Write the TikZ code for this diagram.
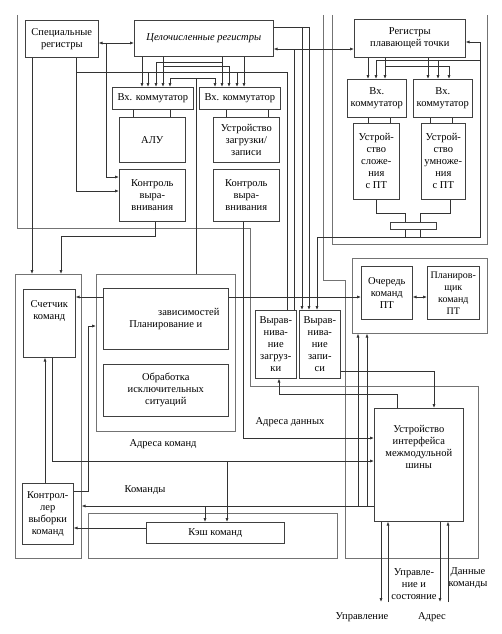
\documentclass[tikz,border=0pt]{standalone}
\usepackage{fontspec}
\setmainfont{Liberation Serif}
\usepackage{tikz}
\usetikzlibrary{arrows.meta}

\begin{document}
\begin{tikzpicture}[x=1pt, y=-1pt,
    box/.style={draw=black!75, line width=0.6pt, fill=white, align=center, inner sep=1pt,
      anchor=north west, font=\fontsize{10.5}{12}\selectfont},
    frame/.style={draw=black!55, line width=0.6pt},
    wire/.style={draw=black!80, line width=0.75pt},
    arr/.style={wire, -{Latex[length=4pt,width=3.2pt]}},
    dbl/.style={wire, {Latex[length=4pt,width=3.2pt]}-{Latex[length=4pt,width=3.2pt]}},
    lbl/.style={font=\fontsize{10.5}{12}\selectfont, align=center, inner sep=0pt}]
  \useasboundingbox (0,0) rectangle (502,634);

  % outer frames
  \draw[frame] (17,15) -- (17,228) -- (250,228) -- (250,386) -- (345,386);
  \draw[frame] (323,15) -- (323,280) -- (345,280) -- (345,558);
  \draw[frame] (332,15) -- (332,244) -- (487,244) -- (487,15);
  \node[frame, draw, anchor=north west, minimum width=66pt, minimum height=284pt] (fA) at (15,274) {};
  \node[frame, draw, anchor=north west, minimum width=139pt, minimum height=157pt] (fB) at (96,274) {};
  \node[frame, draw, anchor=north west, minimum width=135pt, minimum height=75pt] (fQ) at (352,258) {};
  \node[frame, draw, anchor=north west, minimum width=133pt, minimum height=172pt] (fI) at (345,386) {};
  \node[frame, draw, anchor=north west, minimum width=249pt, minimum height=45pt] (fC) at (88,513) {};

  % integer unit
  \node[box, minimum width=73pt, minimum height=37pt] (spec) at (25,20) {Специальные\\регистры};
  \node[box, minimum width=139pt, minimum height=36pt] (intreg) at (134,20) {\textit{Целочисленные регистры}};
  \node[box, minimum width=81pt, minimum height=22pt] (comL) at (112,87) {Вх. коммутатор};
  \node[box, minimum width=81pt, minimum height=22pt] (comR) at (199,87) {Вх. коммутатор};
  \node[box, minimum width=66pt, minimum height=45pt] (alu) at (119,117) {АЛУ};
  \node[box, minimum width=66pt, minimum height=45pt] (ldst) at (213,117) {Устройство\\загрузки/\\записи};
  \node[box, minimum width=66pt, minimum height=52pt] (ctlL) at (119,169) {Контроль\\выра-\\внивания};
  \node[box, minimum width=66pt, minimum height=52pt] (ctlR) at (213,169) {Контроль\\выра-\\внивания};

  % floating point unit
  \node[box, minimum width=111pt, minimum height=38pt] (fpreg) at (354,19) {Регистры\\плавающей точки};
  \node[box, minimum width=59pt, minimum height=38pt] (fcomL) at (347,79) {Вх.\\коммутатор};
  \node[box, minimum width=59pt, minimum height=38pt] (fcomR) at (413,79) {Вх.\\коммутатор};
  \node[box, minimum width=46pt, minimum height=76pt] (fadd) at (353,123) {Устрой-\\ство\\сложе-\\ния\\с ПТ};
  \node[box, minimum width=44pt, minimum height=76pt] (fmul) at (421,123) {Устрой-\\ство\\умноже-\\ния\\с ПТ};

  % command flow
  \node[box, minimum width=52pt, minimum height=68pt] (pc) at (23,289) {Счетчик\\команд\\[14pt]};
  \node[box, minimum width=125pt, minimum height=61pt] (sched) at (103,288) {\hspace*{46pt}зависимостей\\Планирование и};
  \node[box, minimum width=125pt, minimum height=52pt] (exc) at (103,364) {Обработка\\исключительных\\ситуаций};
  \node[box, minimum width=41pt, minimum height=68pt] (alld) at (255,310) {Вырав-\\нива-\\ние\\загруз-\\ки};
  \node[box, minimum width=41pt, minimum height=68pt] (alst) at (299,310) {Вырав-\\нива-\\ние\\запи-\\си};
  \node[box, minimum width=51pt, minimum height=53pt] (fq) at (361,266) {Очередь\\команд\\ПТ};
  \node[box, minimum width=52pt, minimum height=53pt, inner sep=0pt, font=\fontsize{10}{12}\selectfont] (fsch) at (427,266) {Планиров-\\щик\\команд\\ПТ};
  \node[box, minimum width=89pt, minimum height=113pt] (bif) at (374,408) {Устройство\\интерфейса\\межмодульной\\шины\\[24pt]};
  \node[box, minimum width=51pt, minimum height=61pt] (fetch) at (22,483) {Контрол-\\лер\\выборки\\команд};
  \node[box, minimum width=138pt, minimum height=21pt] (icache) at (146,522) {Кэш команд};

  % registers and input switches
  \draw[dbl] (spec.east |- 0,43) -- (intreg.west |- 0,43);
  \draw[arr] (106,43) |- (ctlL.west |- 0,177);
  \draw[arr] (spec.south -| 76,0) |- (ctlL.west |- 0,191);
  \draw[arr] (spec.south -| 32,0) -- (fA.north -| 32,0);
  \draw[arr] (ctlL.south -| 155,0) |- (61,236) -- (fA.north -| 61,0);
  \draw[wire] (76,72) -- (287,72);
  \draw[arr] (intreg.south -| 142,0) -- (comL.north -| 142,0);
  \draw[arr] (intreg.south -| 163,0) -- (comL.north -| 163,0);
  \draw[arr] (163,66) -| (comR.north -| 229,0);
  \draw[arr] (intreg.south -| 222,0) -- (comR.north -| 222,0);
  \draw[arr] (222,62) -| (comL.north -| 156,0);
  \draw[arr] (intreg.south -| 244,0) -- (comR.north -| 244,0);
  \draw[arr] (148,72) -- (comL.north -| 148,0);
  \draw[arr] (237,72) -- (comR.north -| 237,0);
  \draw[dbl] (comL.north -| 170,0) -- (170,78) -- (215,78) -- (comR.north -| 215,0);
  \draw[wire] (196,78) -- (fB.north -| 196,0);
  \draw[wire] (comL.south -| 133,0) -- (alu.north -| 133,0);
  \draw[wire] (comL.south -| 170,0) -- (alu.north -| 170,0);
  \draw[wire] (comR.south -| 226,0) -- (ldst.north -| 226,0);
  \draw[wire] (comR.south -| 268,0) -- (ldst.north -| 268,0);

  % load / store paths
  \draw[dbl] (intreg.east |- 0,49) -- (fpreg.west |- 0,49);
  \draw[wire] (alld.north -| 287,0) -- (287,72);
  \draw[wire] (alld.north -| 294,0) -- (294,49);
  \draw[wire] (intreg.east |- 0,27) -- (309,27);
  \draw[arr] (302,27) -- (alst.north -| 302,0);
  \draw[arr] (309,27) -- (alst.north -| 309,0);
  \draw[arr] (317,237) -- (alst.north -| 317,0);
  \draw[arr] (ctlR.south -| 243,0) |- (bif.west |- 0,438);
  \draw[arr] (alst.east |- 0,371) -| (bif.north -| 434,0);
  \draw[arr] (bif.north -| 397,0) |- (279,394) -- (alld.south -| 279,0);

  % floating point paths
  \draw[arr] (317,237) -- (480,237) |- (fpreg.east |- 0,42);
  \draw[arr] (480,60) -| (fcomL.north -| 376,0);
  \draw[arr] (438,60) -- (fcomR.north -| 438,0);
  \draw[arr] (fpreg.south -| 368,0) -- (fcomL.north -| 368,0);
  \draw[arr] (fpreg.south -| 428,0) -- (fcomR.north -| 428,0);
  \draw[arr] (fpreg.south -| 385,0) -- (fcomL.north -| 385,0);
  \draw[arr] (385,66) -| (fcomR.north -| 449,0);
  \draw[wire] (fcomL.south -| 368,0) -- (fadd.north -| 368,0);
  \draw[wire] (fcomL.south -| 390,0) -- (fadd.north -| 390,0);
  \draw[wire] (fcomR.south -| 430,0) -- (fmul.north -| 430,0);
  \draw[wire] (fcomR.south -| 452,0) -- (fmul.north -| 452,0);
  \draw[wire] (fadd.south -| 376,0) |- (405,213) -- (405,237);
  \draw[wire] (fmul.south -| 450,0) |- (420,213) -- (420,237);
  \node[box, minimum width=46pt, minimum height=7pt, inner sep=0pt] (fbus) at (390,222) {};

  % command paths
  \draw[arr] (sched.west |- 0,297) -- (pc.east |- 0,297);
  \draw[arr] (sched.east |- 0,297) -- (fq.west |- 0,297);
  \draw[dbl] (fq.east |- 0,297) -- (fsch.west |- 0,297);
  \draw[arr] (fetch.north -| 45,0) -- (pc.south -| 45,0);
  \draw[arr] (pc.south -| 52,0) |- (bif.west |- 0,461);
  \draw[arr] (227,461) -- (icache.north -| 227,0);
  \draw[arr] (fetch.east |- 0,491) -| (88,326) -- (fB.west |- 0,326);
  \draw[arr] (icache.west |- 0,528) -- (fetch.east |- 0,528);
  \draw[arr] (bif.west |- 0,506) -- (fA.east |- 0,506);
  \draw[arr] (205,506) -- (icache.north -| 205,0);
  \draw[arr] (358,506) -- (fQ.south -| 358,0);
  \draw[arr] (367,506) -- (fQ.south -| 367,0);

  % bus interface
  \draw[arr] (bif.south -| 381,0) -- (381,602);
  \draw[arr] (388,602) -- (bif.south -| 388,0);
  \draw[arr] (bif.south -| 440,0) -- (440,602);
  \draw[arr] (448,602) -- (bif.south -| 448,0);

  \node[lbl] (lia) at (163,444) {Адреса команд};
  \node[lbl] (lcmd) at (145,490) {Команды};
  \node[lbl] (lda) at (290,422) {Адреса данных};
  \node[lbl] (lcs) at (414,584) {Управле-\\ние и\\состояние};
  \node[lbl] (ldc) at (468,578) {Данные\\команды};
  \node[lbl] (lctl) at (362,617) {Управление};
  \node[lbl] (ladr) at (432,617) {Адрес};
\end{tikzpicture}
\end{document}
